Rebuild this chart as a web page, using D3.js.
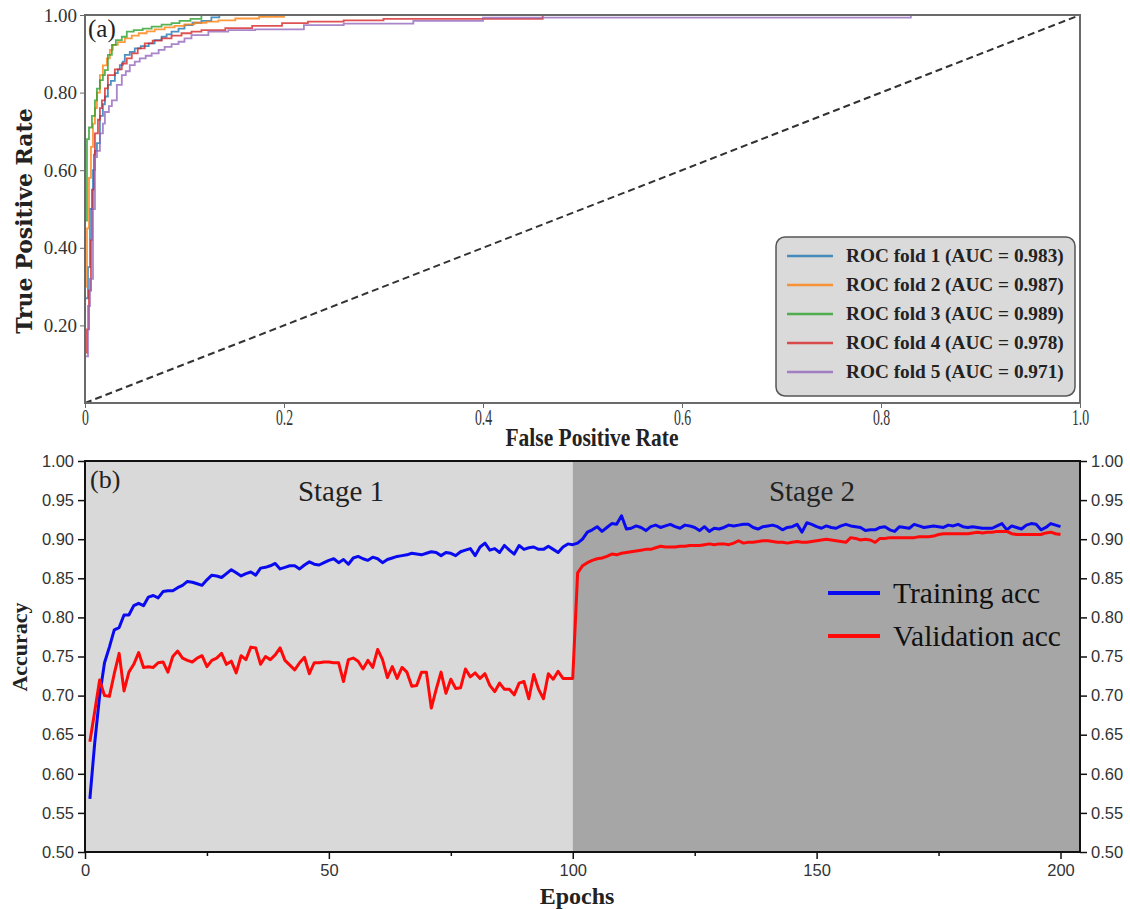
<!DOCTYPE html>
<html>
<head>
<meta charset="utf-8">
<script src="https://d3js.org/d3.v7.min.js"></script>
<style>
  body { margin: 0; background: #fff; }
  svg { display: block; }
</style>
</head>
<body>
<div id="chart"></div>
<script>
// ---- panel (a): ROC curves, one fpr/tpr pair per fold ----
const foldNames = ["ROC fold 1 (AUC = 0.983)", "ROC fold 2 (AUC = 0.987)", "ROC fold 3 (AUC = 0.989)",
                   "ROC fold 4 (AUC = 0.978)", "ROC fold 5 (AUC = 0.971)"];
const foldColors = ["#1f77b4", "#ff7f0e", "#2ca02c", "#d62728", "#9467bd"];

const fold1Fpr = [0, 0, 0.003, 0.005, 0.008, 0.010, 0.012, 0.015, 0.018, 0.020, 0.023, 0.026, 0.030, 0.033, 0.035, 0.038,
  0.040, 0.045, 0.050, 0.056, 0.064, 0.070, 0.077, 0.082, 0.087, 0.094, 0.100, 0.108, 0.117, 0.127, 0.135, 1.0];
const fold1Tpr = [0, 0.27, 0.35, 0.50, 0.60, 0.65, 0.67, 0.74, 0.77, 0.79, 0.82, 0.83, 0.85, 0.86, 0.871, 0.88,
  0.897, 0.905, 0.914, 0.92, 0.927, 0.935, 0.944, 0.95, 0.957, 0.965, 0.974, 0.98, 0.985, 0.994, 1.0, 1.0];

const fold2Fpr = [0, 0, 0.002, 0.004, 0.006, 0.008, 0.010, 0.012, 0.015, 0.018, 0.022, 0.025, 0.028, 0.033, 0.040,
  0.047, 0.054, 0.062, 0.070, 0.080, 0.090, 0.100, 0.110, 0.122, 0.134, 0.151, 0.175, 0.200, 1.0];
const fold2Tpr = [0, 0.30, 0.45, 0.58, 0.66, 0.72, 0.76, 0.80, 0.845, 0.87, 0.888, 0.91, 0.923, 0.93, 0.94,
  0.947, 0.953, 0.958, 0.963, 0.968, 0.972, 0.976, 0.98, 0.983, 0.986, 0.991, 0.995, 1.0, 1.0];

const fold3Fpr = [0, 0, 0.002, 0.004, 0.007, 0.010, 0.012, 0.015, 0.018, 0.020, 0.023, 0.027, 0.031, 0.037, 0.042,
  0.049, 0.058, 0.067, 0.077, 0.087, 0.095, 0.106, 0.117, 1.0];
const fold3Tpr = [0, 0.47, 0.68, 0.71, 0.74, 0.78, 0.81, 0.832, 0.845, 0.858, 0.897, 0.923, 0.935, 0.944, 0.957,
  0.961, 0.965, 0.970, 0.975, 0.979, 0.985, 0.99, 1.0, 1.0];

const fold4Fpr = [0, 0, 0.002, 0.004, 0.006, 0.007, 0.009, 0.010, 0.013, 0.015, 0.017, 0.020, 0.023, 0.030, 0.037,
  0.042, 0.047, 0.053, 0.060, 0.068, 0.077, 0.087, 0.097, 0.107, 0.117, 0.141, 0.168, 0.198, 0.224, 0.260,
  0.300, 0.460, 1.0];
const fold4Tpr = [0, 0.13, 0.19, 0.29, 0.42, 0.55, 0.64, 0.695, 0.73, 0.76, 0.78, 0.811, 0.845, 0.86, 0.875,
  0.888, 0.901, 0.914, 0.927, 0.934, 0.94, 0.947, 0.953, 0.957, 0.961, 0.966, 0.972, 0.979, 0.983, 0.986,
  0.99, 1.0, 1.0];

const fold5Fpr = [0, 0, 0.003, 0.005, 0.008, 0.010, 0.012, 0.015, 0.018, 0.020, 0.024, 0.027, 0.032, 0.037, 0.041,
  0.045, 0.050, 0.055, 0.061, 0.067, 0.074, 0.080, 0.087, 0.094, 0.100, 0.107, 0.124, 0.144, 0.171, 0.220,
  0.260, 0.330, 0.400, 0.830, 1.0];
const fold5Tpr = [0, 0.12, 0.25, 0.32, 0.50, 0.634, 0.65, 0.695, 0.72, 0.75, 0.765, 0.78, 0.82, 0.845, 0.855,
  0.871, 0.88, 0.888, 0.895, 0.901, 0.91, 0.918, 0.925, 0.931, 0.94, 0.948, 0.957, 0.961, 0.963, 0.974,
  0.978, 0.985, 0.993, 1.0, 1.0];

const rocXTicks = [0, 0.2, 0.4, 0.6, 0.8, 1.0];
const rocYTicks = [0.2, 0.4, 0.6, 0.8, 1.0];

// ---- panel (b): accuracy per epoch (epochs 1..200) ----
const trainAcc = [
  0.568, 0.640, 0.700, 0.742, 0.762, 0.784, 0.787, 0.803, 0.803, 0.815,
  0.818, 0.815, 0.826, 0.828, 0.825, 0.833, 0.834, 0.834, 0.838, 0.841,
  0.846, 0.845, 0.843, 0.841, 0.848, 0.854, 0.853, 0.851, 0.856, 0.861,
  0.857, 0.853, 0.856, 0.858, 0.854, 0.863, 0.864, 0.866, 0.869, 0.862,
  0.864, 0.866, 0.866, 0.862, 0.867, 0.871, 0.868, 0.867, 0.870, 0.873,
  0.875, 0.870, 0.874, 0.868, 0.876, 0.878, 0.875, 0.873, 0.877, 0.875,
  0.870, 0.874, 0.876, 0.878, 0.879, 0.880, 0.882, 0.881, 0.880, 0.882,
  0.884, 0.883, 0.879, 0.883, 0.882, 0.879, 0.884, 0.886, 0.888, 0.879,
  0.890, 0.895, 0.886, 0.888, 0.883, 0.892, 0.886, 0.881, 0.892, 0.887,
  0.889, 0.890, 0.887, 0.887, 0.891, 0.887, 0.883, 0.890, 0.894, 0.893,
  0.895, 0.900, 0.909, 0.912, 0.916, 0.910, 0.915, 0.920, 0.919, 0.930,
  0.913, 0.914, 0.917, 0.915, 0.911, 0.916, 0.918, 0.915, 0.917, 0.919,
  0.916, 0.914, 0.918, 0.917, 0.915, 0.911, 0.916, 0.910, 0.914, 0.913,
  0.915, 0.918, 0.917, 0.918, 0.919, 0.919, 0.915, 0.913, 0.916, 0.917,
  0.918, 0.916, 0.912, 0.915, 0.916, 0.919, 0.909, 0.921, 0.919, 0.916,
  0.914, 0.917, 0.915, 0.914, 0.917, 0.919, 0.917, 0.916, 0.915, 0.911,
  0.912, 0.912, 0.915, 0.916, 0.912, 0.910, 0.916, 0.915, 0.914, 0.919,
  0.917, 0.915, 0.916, 0.917, 0.916, 0.915, 0.918, 0.917, 0.919, 0.916,
  0.915, 0.916, 0.915, 0.914, 0.914, 0.914, 0.917, 0.920, 0.912, 0.917,
  0.915, 0.913, 0.918, 0.920, 0.919, 0.912, 0.915, 0.920, 0.918, 0.916
];
const valAcc = [
  0.641, 0.680, 0.720, 0.700, 0.699, 0.728, 0.754, 0.706, 0.730, 0.740,
  0.755, 0.736, 0.737, 0.736, 0.742, 0.743, 0.730, 0.750, 0.757, 0.748,
  0.745, 0.743, 0.748, 0.751, 0.737, 0.745, 0.748, 0.754, 0.740, 0.744,
  0.729, 0.751, 0.746, 0.762, 0.761, 0.740, 0.750, 0.746, 0.752, 0.761,
  0.745, 0.739, 0.733, 0.742, 0.749, 0.728, 0.742, 0.742, 0.743, 0.743,
  0.742, 0.742, 0.718, 0.746, 0.748, 0.744, 0.734, 0.745, 0.736, 0.759,
  0.746, 0.723, 0.737, 0.722, 0.736, 0.730, 0.712, 0.713, 0.730, 0.730,
  0.684, 0.708, 0.730, 0.703, 0.721, 0.709, 0.710, 0.734, 0.724, 0.729,
  0.722, 0.728, 0.713, 0.705, 0.716, 0.708, 0.708, 0.701, 0.716, 0.718,
  0.696, 0.727, 0.708, 0.696, 0.728, 0.721, 0.731, 0.722, 0.722, 0.722,
  0.857, 0.866, 0.870, 0.873, 0.875, 0.876, 0.878, 0.881, 0.880, 0.882,
  0.883, 0.884, 0.885, 0.886, 0.887, 0.887, 0.889, 0.891, 0.890, 0.890,
  0.890, 0.891, 0.891, 0.892, 0.892, 0.892, 0.893, 0.894, 0.893, 0.894,
  0.894, 0.893, 0.895, 0.898, 0.895, 0.896, 0.896, 0.897, 0.898, 0.898,
  0.897, 0.896, 0.896, 0.895, 0.896, 0.897, 0.896, 0.896, 0.897, 0.898,
  0.899, 0.900, 0.899, 0.898, 0.897, 0.896, 0.902, 0.901, 0.899, 0.900,
  0.899, 0.896, 0.901, 0.901, 0.902, 0.902, 0.902, 0.902, 0.902, 0.902,
  0.903, 0.903, 0.903, 0.904, 0.906, 0.907, 0.907, 0.907, 0.907, 0.907,
  0.907, 0.908, 0.909, 0.908, 0.909, 0.909, 0.910, 0.910, 0.910, 0.907,
  0.906, 0.906, 0.906, 0.906, 0.906, 0.906, 0.908, 0.909, 0.907, 0.906
];
const epochs = d3.range(1, trainAcc.length + 1);
const accTicks = [0.50, 0.55, 0.60, 0.65, 0.70, 0.75, 0.80, 0.85, 0.90, 0.95, 1.00];
const epochTicks = [0, 50, 100, 150, 200];
const epochMinorTicks = [25, 75, 125, 175];
const stages = [{ name: "Stage 1", from: 0, to: 100, fill: "#d9d9d9" },
                { name: "Stage 2", from: 100, to: 204, fill: "#a6a6a6" }];
const accSeries = [{ name: "Training acc", values: trainAcc, color: "#0a0af0" },
                   { name: "Validation acc", values: valAcc, color: "#ff0a0a" }];

const width = 1130, height = 909;
const svg = d3.select("#chart").append("svg")
  .attr("width", width).attr("height", height);
svg.append("rect").attr("width", width).attr("height", height).attr("fill", "#fff");

// ================= panel (a) =================
const ax = d3.scaleLinear().domain([0, 1]).range([85, 1080]);
const ay = d3.scaleLinear().domain([0, 1]).range([403, 15]);

const folds = [[fold1Fpr, fold1Tpr], [fold2Fpr, fold2Tpr], [fold3Fpr, fold3Tpr], [fold4Fpr, fold4Tpr], [fold5Fpr, fold5Tpr]]
  .map((f, i) => ({ name: foldNames[i], color: foldColors[i], pts: f[0].map((x, j) => [x, f[1][j]]) }));

const rocLine = d3.line().x(d => ax(d[0])).y(d => ay(d[1])).curve(d3.curveStepAfter);

svg.append("g").selectAll("path").data(folds).enter().append("path")
  .attr("d", d => rocLine(d.pts))
  .attr("fill", "none")
  .attr("stroke", d => d.color)
  .attr("stroke-opacity", 0.8)
  .attr("stroke-width", 1.8);

svg.append("line")
  .attr("x1", ax(0)).attr("y1", ay(0)).attr("x2", ax(1)).attr("y2", ay(1))
  .attr("stroke", "#333").attr("stroke-width", 2).attr("stroke-dasharray", "7,4");

svg.append("rect")
  .attr("x", 85).attr("y", 15).attr("width", 995).attr("height", 388)
  .attr("fill", "none").attr("stroke", "#6a6a6a").attr("stroke-width", 2);

const axA = svg.append("g").attr("transform", "translate(0,403)")
  .call(d3.axisBottom(ax).tickValues(rocXTicks).tickFormat(d => d === 0 ? "0" : d3.format(".1f")(d)).tickSize(5));
axA.select(".domain").remove();
axA.selectAll("line").attr("stroke", "#6a6a6a");
axA.selectAll("text")
  .attr("font-family", "Liberation Serif").attr("font-size", 23).attr("fill", "#333")
  .attr("y", 6).attr("transform", "scale(0.6,1)");

const ayA = svg.append("g").attr("transform", "translate(85,0)")
  .call(d3.axisLeft(ay).tickValues(rocYTicks).tickFormat(d3.format(".2f")).tickSize(5));
ayA.select(".domain").remove();
ayA.selectAll("line").attr("stroke", "#6a6a6a");
ayA.selectAll("text")
  .attr("font-family", "Liberation Serif").attr("font-size", 19).attr("fill", "#333").attr("x", -8);

svg.append("text").attr("x", 88).attr("y", 37)
  .attr("font-family", "Liberation Serif").attr("font-size", 25).attr("fill", "#222").text("(a)");

svg.append("text")
  .attr("transform", "translate(592,446) scale(0.86,1)")
  .attr("text-anchor", "middle")
  .attr("font-family", "Liberation Serif").attr("font-weight", "bold").attr("font-size", 25).attr("fill", "#222")
  .text("False Positive Rate");

svg.append("text")
  .attr("transform", "translate(32,221) rotate(-90)")
  .attr("text-anchor", "middle")
  .attr("font-family", "DejaVu Serif").attr("font-weight", "bold").attr("font-size", 22).attr("fill", "#222")
  .text("True Positive Rate");

// legend (a)
const legA = svg.append("g");
legA.append("rect").attr("x", 776).attr("y", 237).attr("width", 299).attr("height", 159).attr("rx", 9)
  .attr("fill", "#dadada").attr("stroke", "#555").attr("stroke-width", 1.5);
const legARows = legA.selectAll("g").data(folds).enter().append("g")
  .attr("transform", (d, i) => `translate(0,${256 + i * 29})`);
legARows.append("line").attr("x1", 787).attr("x2", 833)
  .attr("stroke", d => d.color).attr("stroke-opacity", 0.8).attr("stroke-width", 2.5);
legARows.append("text").attr("x", 846).attr("y", 6)
  .attr("font-family", "Liberation Serif").attr("font-weight", "bold").attr("font-size", 19.3).attr("fill", "#222")
  .text(d => d.name);

// ================= panel (b) =================
const bx = d3.scaleLinear().domain([0, 204]).range([85, 1080]);
const by = d3.scaleLinear().domain([0.5, 1]).range([852, 461]);

svg.append("g").selectAll("rect").data(stages).enter().append("rect")
  .attr("x", d => bx(d.from)).attr("y", 461)
  .attr("width", d => bx(d.to) - bx(d.from)).attr("height", 391)
  .attr("fill", d => d.fill);

svg.append("g").selectAll("text").data(stages).enter().append("text")
  .attr("x", d => d.from === 0 ? 341 : 812).attr("y", 501)
  .attr("text-anchor", "middle")
  .attr("font-family", "Liberation Serif").attr("font-size", 29).attr("fill", "#222")
  .text(d => d.name);

const accLine = d3.line().x((d, i) => bx(epochs[i])).y(d => by(d));
svg.append("g").selectAll("path").data(accSeries).enter().append("path")
  .attr("d", d => accLine(d.values))
  .attr("fill", "none").attr("stroke", d => d.color)
  .attr("stroke-width", 3).attr("stroke-linejoin", "round");

svg.append("rect")
  .attr("x", 85).attr("y", 461).attr("width", 995).attr("height", 391)
  .attr("fill", "none").attr("stroke", "#111").attr("stroke-width", 2);

const tickFont = "Liberation Sans";
const byL = svg.append("g").attr("transform", "translate(85,0)")
  .call(d3.axisLeft(by).tickValues(accTicks).tickFormat(d3.format(".2f")).tickSize(7));
const byR = svg.append("g").attr("transform", "translate(1080,0)")
  .call(d3.axisRight(by).tickValues(accTicks).tickFormat(d3.format(".2f")).tickSize(7));
const bxB = svg.append("g").attr("transform", "translate(0,852)")
  .call(d3.axisBottom(bx).tickValues(epochTicks).tickSize(7));
const bxMinor = svg.append("g").attr("transform", "translate(0,852)")
  .call(d3.axisBottom(bx).tickValues(epochMinorTicks).tickFormat("").tickSize(4));

[byL, byR, bxB, bxMinor].forEach(g => {
  g.select(".domain").remove();
  g.selectAll("line").attr("stroke", "#111").attr("stroke-width", 1.5);
  g.selectAll("text").attr("font-family", tickFont).attr("font-size", 16.5).attr("fill", "#333");
});
byL.selectAll("text").attr("x", -11);
byR.selectAll("text").attr("x", 11);
bxB.selectAll("text").attr("y", 12);

svg.append("text").attr("x", 90).attr("y", 488)
  .attr("font-family", "Liberation Serif").attr("font-size", 26).attr("fill", "#222").text("(b)");

svg.append("text").attr("x", 577).attr("y", 904)
  .attr("text-anchor", "middle")
  .attr("font-family", "Liberation Serif").attr("font-weight", "bold").attr("font-size", 24).attr("fill", "#222")
  .text("Epochs");

svg.append("text")
  .attr("transform", "translate(27,647) rotate(-90)")
  .attr("text-anchor", "middle")
  .attr("font-family", "Liberation Serif").attr("font-weight", "bold").attr("font-size", 22).attr("fill", "#222")
  .text("Accuracy");

// legend (b)
const legB = svg.append("g").selectAll("g").data(accSeries).enter().append("g")
  .attr("transform", (d, i) => `translate(0,${593 + i * 43})`);
legB.append("line").attr("x1", 828).attr("x2", 880)
  .attr("stroke", d => d.color).attr("stroke-width", 4);
legB.append("text").attr("x", 893).attr("y", 10)
  .attr("font-family", "Liberation Serif").attr("font-size", 29.5).attr("fill", "#111")
  .text(d => d.name);
</script>
</body>
</html>
